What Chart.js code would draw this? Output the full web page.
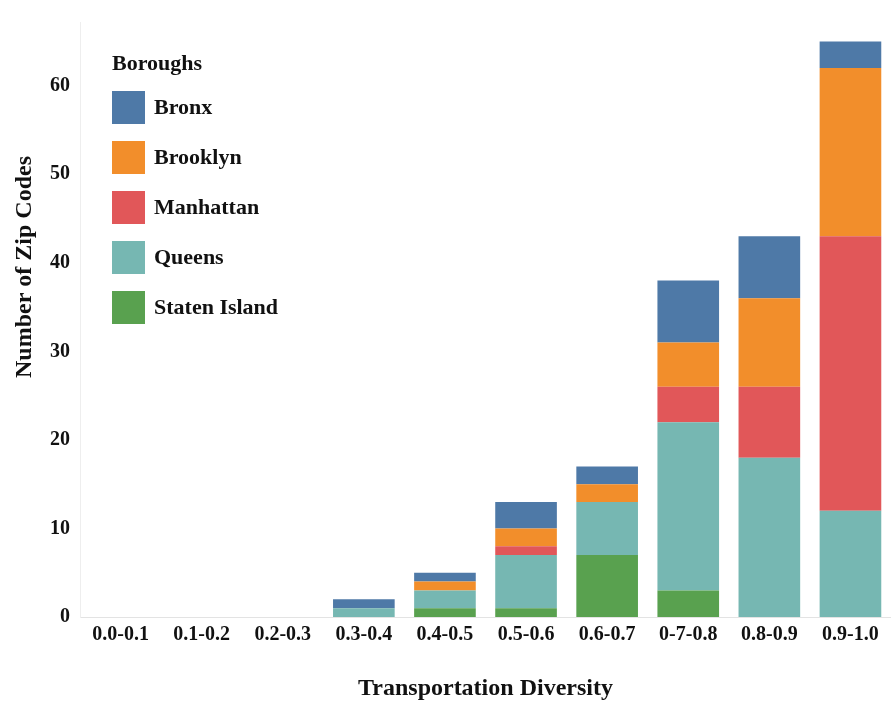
<!DOCTYPE html>
<html>
<head>
<meta charset="utf-8">
<script src="https://cdn.jsdelivr.net/npm/chart.js@4.4.1/dist/chart.umd.min.js"></script>
<style>
  html, body { margin: 0; padding: 0; background: #fff; }
  #wrap { width: 891px; height: 707px; position: relative; }
</style>
</head>
<body>
<div id="wrap"><canvas id="chart"></canvas></div>
<script>
// Data
const categories = ["0.0-0.1", "0.1-0.2", "0.2-0.3", "0.3-0.4", "0.4-0.5", "0.5-0.6", "0.6-0.7", "0-7-0.8", "0.8-0.9", "0.9-1.0"];
const statenIsland = [0, 0, 0, 0, 1, 1, 7, 3, 0, 0];
const queens       = [0, 0, 0, 1, 2, 6, 6, 19, 18, 12];
const manhattan    = [0, 0, 0, 0, 0, 1, 0, 4, 8, 31];
const brooklyn     = [0, 0, 0, 0, 1, 2, 2, 5, 10, 19];
const bronx        = [0, 0, 0, 1, 1, 3, 2, 7, 7, 3];
const yTicks = [0, 10, 20, 30, 40, 50, 60];

const FONT = "'Liberation Serif', 'Times New Roman', serif";

// stacked bottom -> top
const series = [
  { label: "Staten Island", data: statenIsland, color: "#59a14f" },
  { label: "Queens", data: queens, color: "#76b7b2" },
  { label: "Manhattan", data: manhattan, color: "#e15759" },
  { label: "Brooklyn", data: brooklyn, color: "#f28e2b" },
  { label: "Bronx", data: bronx, color: "#4e79a7" },
];

// legend inside the plot (top-left) + rotated y title
const boxLegend = {
  id: "boxLegend",
  afterDraw(chart) {
    const ctx = chart.ctx;
    ctx.save();
    ctx.fillStyle = "#111";
    ctx.textBaseline = "middle";
    ctx.textAlign = "left";
    ctx.font = "bold 22px " + FONT;
    ctx.fillText("Boroughs", 112, 64);
    const items = chart.data.datasets.slice().reverse();
    items.forEach((ds, i) => {
      const y = 91 + i * 50;
      ctx.fillStyle = ds.backgroundColor;
      ctx.fillRect(112, y, 33, 33);
      ctx.fillStyle = "#111";
      ctx.fillText(ds.label, 154, y + 17);
    });

    ctx.translate(25, 267);
    ctx.rotate(-Math.PI / 2);
    ctx.textAlign = "center";
    ctx.font = "bold 24px " + FONT;
    ctx.fillText("Number of Zip Codes", 0, 0);
    ctx.restore();
  },
};

const ctx = document.getElementById("chart").getContext("2d");
new Chart(ctx, {
  type: "bar",
  data: {
    labels: categories,
    datasets: series.map((s) => ({
      label: s.label,
      data: s.data,
      backgroundColor: s.color,
      borderWidth: 0,
      categoryPercentage: 1,
      barPercentage: 0.76,
    })),
  },
  options: {
    responsive: true,
    maintainAspectRatio: false,
    animation: false,
    layout: { padding: { top: 0, right: 0, left: 0, bottom: 0 } },
    plugins: { legend: { display: false }, tooltip: { enabled: false } },
    scales: {
      x: {
        stacked: true,
        grid: { display: false, drawTicks: false },
        border: { color: "#e3e3e3" },
        ticks: { color: "#111", font: { family: FONT, size: 20, weight: "bold" }, padding: 6, maxRotation: 0 },
        title: {
          display: true,
          text: "Transportation Diversity",
          color: "#111",
          font: { family: FONT, size: 24, weight: "bold" },
          padding: { top: 20, bottom: 4 },
        },
        afterFit(scale) { scale.height = 90; },
      },
      y: {
        stacked: true,
        min: 0,
        max: 67.2,
        grid: { display: false, drawTicks: false },
        border: { color: "#eeeeee" },
        afterBuildTicks(scale) {
          scale.ticks = yTicks.map((v) => ({ value: v }));
        },
        ticks: { color: "#111", font: { family: FONT, size: 20, weight: "bold" }, padding: 10 },
        afterFit(scale) { scale.width = 80; },
      },
    },
  },
  plugins: [boxLegend],
});
</script>
</body>
</html>
